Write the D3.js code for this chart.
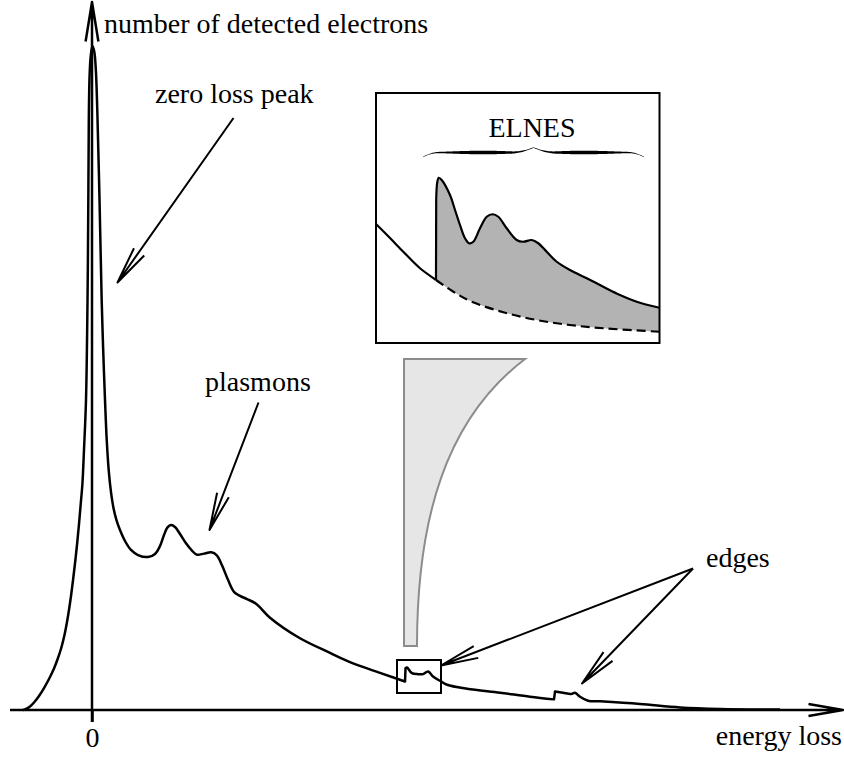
<!DOCTYPE html>
<html>
<head>
<meta charset="utf-8">
<script src="https://cdn.jsdelivr.net/npm/d3@7"></script>
<style>
  body { margin: 0; background: #fff; }
  svg { display: block; }
  text { font-family: "Liberation Serif", "Times New Roman", serif; fill: #000; }
</style>
</head>
<body>
<svg id="chart" width="844" height="758"></svg>
<script>
// ---- EELS spectrum (arbitrary units) ----
const spectrumEnergy = [-8.625,-8.25,-7.75,-7.25,-6.625,-6.0,-5.375,-4.75,-4.25,-3.81,-3.44,-3.125,-2.84,-2.59,-2.34,-2.09,-1.85,-1.625,-1.4,-1.2,
  -1.0,-0.75,-0.56,-0.46,-0.40,-0.30,-0.15,0.06,0.29,0.48,0.66,0.94,1.21,1.4,1.625,1.84,2.09,2.375,2.69,3.06,3.5,4.125,
  4.875,5.75,7.0,7.875,8.5,9.0,9.44,9.875,10.375,11.0,11.75,12.5,13.1,14.0,14.9,15.6,16.25,17.0,17.75,18.5,
  19.38,20.5,22.25,26.0,29.75,32.25,36.0,38.13,39.13,39.19,39.38,39.94,40.75,41.38,42.0,42.63,43.63,44.38,46.88,51.0,
  54.75,57.75,57.88,58.88,59.88,60.38,61.0,62.0,63.5,68.5,73.5,78.5,86.0];
const spectrumCounts = [0,0.15,0.53,1.13,2.11,3.31,4.67,6.25,7.83,9.49,11.3,13.25,15.36,17.47,19.88,22.44,25.15,28.0,31.17,34.04,
  39.2,46.7,61.7,76.8,88.9,95.6,98.6,100,99.1,96.4,90.4,76.8,61.7,54.2,46.7,40.7,36.1,32.8,30.4,28.6,27.1,25.45,
  24.1,23.34,23.04,23.5,24.7,26.35,27.5,27.86,27.56,26.5,25.1,24.0,23.4,23.55,23.75,23.3,21.8,19.6,17.8,17.2,
  16.7,16.0,13.9,10.8,8.6,7.2,5.6,4.7,4.3,6.3,6.4,5.6,5.4,5.4,5.8,5.05,4.3,3.8,3.2,2.6,
  2.0,1.6,2.8,2.6,2.4,2.6,2.0,1.4,1.3,0.9,0.38,0.15,0.06];
// energies at which an ionisation edge rises abruptly
const edgeOnsets = [39.13, 57.75];

// region of the spectrum shown magnified in the inset
const zoomEnergy = [38.125, 43.625];
const zoomCounts = [2.56, 7.53];

// ---- inset: core-loss edge with fine structure (relative units) ----
const preEdgeEnergy = [0, 4.94, 9.63, 15.52, 20.81, 21.16];
const preEdgeCounts = [47.6, 42.0, 36.5, 29.9, 25.5, 25.2];
const elnesEnergy = [21.16,21.23,21.62,22.15,23.17,26.1,27.87,29.63,31.39,32.8,34.32,36.68,39.05,41.16,43.14,46.1,49.63,51.96,54.92,57.25,60.21,63.74,68.43,74.32,80.18,86.07,91.96,100];
const elnesCounts = [25.2,57.2,64.4,66.1,65.2,59.2,53.2,47.2,41.9,39.9,40.5,45.9,50.5,51.5,50.5,45.9,41.2,40.5,41.2,39.9,36.5,32.5,29.2,25.9,22.5,19.2,16.5,14.1];
const backgroundEnergy = [21.16, 27.3, 33.2, 44.9, 56.7, 68.4, 80.2, 100];
const backgroundCounts = [25.2, 20.5, 16.8, 12.3, 9.2, 7.2, 5.9, 4.5];

// ---- tick and axis labels ----
const xTickValues = [0];
const xAxisTitle = "energy loss";
const yAxisTitle = "number of detected electrons";
const annotations = ["zero loss peak", "plasmons", "edges"];
const insetTitle = "ELNES";

const svg = d3.select("#chart");

const x = d3.scaleLinear().domain([-10.25, 93.875]).range([10, 843]);
const y = d3.scaleLinear().domain([0, 100]).range([710, 46]);

const ix = d3.scaleLinear().domain([0, 100]).range([376, 659.5]);
const iy = d3.scaleLinear().domain([0, 100]).range([343, 93]);

const zip = (a, b) => a.map((v, i) => [v, b[i]]);
const smooth = d3.curveCatmullRom.alpha(0.5);

// smooth pieces joined by straight risers at the given break energies
function steppedPath(points, breaks, sx, sy) {
  const gen = d3.line().x(d => sx(d[0])).y(d => sy(d[1])).curve(smooth);
  const pieces = [];
  let cur = [];
  points.forEach((p, i) => {
    cur.push(p);
    if (breaks.includes(p[0]) && i < points.length - 1) { pieces.push(cur); cur = []; }
  });
  pieces.push(cur);
  return pieces.map((pc, k) => {
    const d = pc.length > 1 ? gen(pc) : `M${sx(pc[0][0])},${sy(pc[0][1])}`;
    return k === 0 ? d : "L" + d.slice(1);
  }).join("");
}

// open arrowhead: two long narrow barbs
function arrow(g, x1, y1, x2, y2, len = 38, half = 9.5, width = 2) {
  const a = Math.atan2(y1 - y2, x1 - x2);
  const t = half * Math.PI / 180;
  const b1 = [x2 + len * Math.cos(a + t), y2 + len * Math.sin(a + t)];
  const b2 = [x2 + len * Math.cos(a - t), y2 + len * Math.sin(a - t)];
  g.append("path")
    .attr("d", `M${x1},${y1}L${x2},${y2}M${b1[0]},${b1[1]}L${x2},${y2}L${b2[0]},${b2[1]}`)
    .attr("fill", "none").attr("stroke", "#000").attr("stroke-width", width)
    .attr("stroke-linejoin", "round").attr("stroke-linecap", "butt");
}

// ---- axes ----
const xAxis = d3.axisBottom(x).tickValues(xTickValues).tickSize(12).tickSizeOuter(0).tickPadding(5).tickFormat(d3.format("d"));
const gx = svg.append("g").attr("transform", `translate(0,${y(0)})`).call(xAxis);
gx.select(".domain").remove();
gx.selectAll(".tick line").attr("stroke", "#000").attr("stroke-width", 2.5);
gx.selectAll(".tick text").attr("font-size", 28).attr("font-family", '"Liberation Serif", serif');

const axes = svg.append("g");
arrow(axes, x.range()[0], y(0), x.range()[1], y(0), 35, 9.7, 2.5);
arrow(axes, x(0), y(0) + 12, x(0), 2, 40, 9.2, 2.5);

// ---- spectrum ----
svg.append("path")
  .attr("d", steppedPath(zip(spectrumEnergy, spectrumCounts), edgeOnsets, x, y))
  .attr("fill", "none").attr("stroke", "#000").attr("stroke-width", 2.5).attr("stroke-linejoin", "round");

// frame around the magnified region
svg.append("rect")
  .attr("x", x(zoomEnergy[0])).attr("y", y(zoomCounts[1]))
  .attr("width", x(zoomEnergy[1]) - x(zoomEnergy[0]))
  .attr("height", y(zoomCounts[0]) - y(zoomCounts[1]))
  .attr("fill", "none").attr("stroke", "#000").attr("stroke-width", 2);

// magnifier funnel between frame and inset
svg.append("path")
  .attr("d", "M404,359L525,359C445,420 417,520 417,646L404,646Z")
  .attr("fill", "#e6e6e6").attr("stroke", "#8c8c8c").attr("stroke-width", 2).attr("stroke-linejoin", "miter");

// ---- inset ----
const inset = svg.append("g");
inset.append("clipPath").attr("id", "insetClip")
  .append("rect").attr("x", ix(0)).attr("y", iy(100)).attr("width", ix(100) - ix(0)).attr("height", iy(0) - iy(100));
const body = inset.append("g").attr("clip-path", "url(#insetClip)");
const iline = d3.line().x(d => ix(d[0])).y(d => iy(d[1])).curve(smooth);
const iarea = d3.area().x(d => ix(d[0])).y0(iy(0)).y1(d => iy(d[1])).curve(smooth);
const elnesPts = zip(elnesEnergy, elnesCounts);
const elnesPath = steppedPath(elnesPts, [elnesEnergy[0]], ix, iy);

body.append("path").attr("d", elnesPath + `L${ix(100)},${iy(0)}L${ix(elnesEnergy[0])},${iy(0)}Z`).attr("fill", "#b3b3b3");
body.append("path").attr("d", iarea(zip(backgroundEnergy, backgroundCounts))).attr("fill", "#fff");
body.append("path").attr("d", iline(zip(backgroundEnergy, backgroundCounts)))
  .attr("fill", "none").attr("stroke", "#000").attr("stroke-width", 2.2).attr("stroke-dasharray", "9,5");
body.append("path").attr("d", iline(zip(preEdgeEnergy, preEdgeCounts)))
  .attr("fill", "none").attr("stroke", "#000").attr("stroke-width", 2.2);
body.append("path").attr("d", elnesPath)
  .attr("fill", "none").attr("stroke", "#000").attr("stroke-width", 2.2).attr("stroke-linejoin", "round");

inset.append("rect")
  .attr("x", ix(0)).attr("y", iy(100)).attr("width", ix(100) - ix(0)).attr("height", iy(0) - iy(100))
  .attr("fill", "none").attr("stroke", "#000").attr("stroke-width", 2);

// calligraphic curly brace over the fine structure
function brace(x0, x1, yEnd, yArm, yTip, wMax) {
  const N = 160, top = [], bot = [];
  for (let i = 0; i <= N; i++) {
    const u = i / N;
    const s = u < 0.5 ? u / 0.5 : (1 - u) / 0.5;          // 0 at the ends, 1 at the cusp
    const tEnd = Math.min(s / 0.15, 1);
    const tTip = Math.max(0, (s - 0.8) / 0.2);
    const cy = yArm + (yEnd - yArm) * Math.pow(1 - tEnd, 2) - (yArm - yTip) * Math.pow(tTip, 2);
    const w = 0.5 + (wMax - 0.5) * Math.pow(Math.sin(Math.PI * Math.pow(s, 1.15)), 1.3);
    const cx = x0 + (x1 - x0) * u;
    top.push([cx, cy - w / 2]);
    bot.push([cx, cy + w / 2]);
  }
  return d3.line()(top.concat(bot.reverse())) + "Z";
}
inset.append("path").attr("d", brace(423, 644, 157, 152.5, 147.5, 3.6)).attr("fill", "#000");

inset.append("text")
  .attr("x", 532).attr("y", 136.5).attr("text-anchor", "middle").attr("font-size", 28)
  .text(insetTitle);

// ---- labels and pointers ----
svg.append("text").attr("x", 104).attr("y", 33).attr("font-size", 28).text(yAxisTitle);
svg.append("text").attr("x", 842).attr("y", 745).attr("text-anchor", "end").attr("font-size", 28).text(xAxisTitle);
svg.append("text").attr("x", 155).attr("y", 103).attr("font-size", 28).text(annotations[0]);
svg.append("text").attr("x", 205).attr("y", 391).attr("font-size", 28).text(annotations[1]);
svg.append("text").attr("x", 706).attr("y", 567).attr("font-size", 28).text(annotations[2]);

const pointers = svg.append("g");
arrow(pointers, 233.5, 118, 117.5, 282.5);
arrow(pointers, 258.5, 402.5, 209.5, 530);
arrow(pointers, 693, 568.5, x(zoomEnergy[1]), 665.5);
arrow(pointers, 693, 568.5, 582, 683.5);
</script>
</body>
</html>
